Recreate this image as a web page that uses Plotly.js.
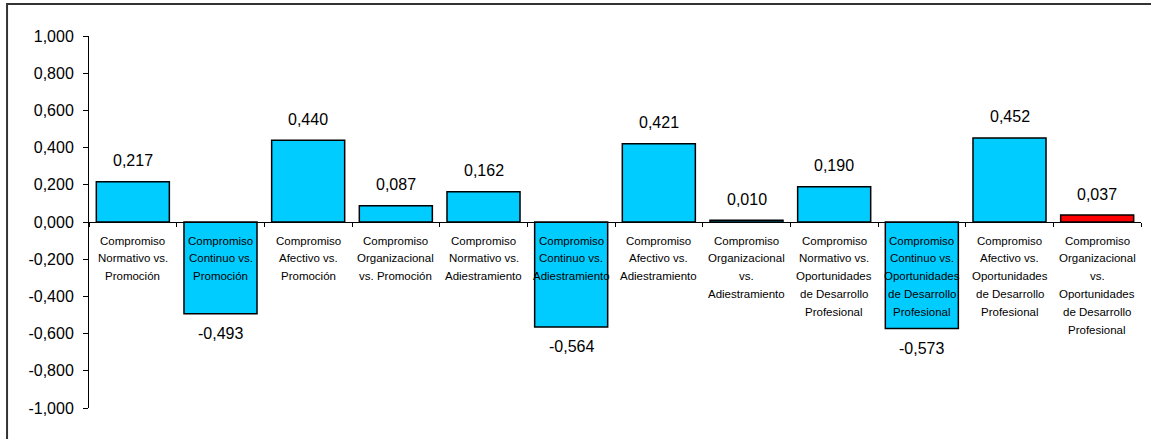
<!DOCTYPE html>
<html>
<head>
<meta charset="utf-8">
<script src="https://cdn.plot.ly/plotly-3.0.1.min.js"></script>
<style>html,body{margin:0;padding:0;background:#fff;}#chart{width:1151px;height:439px;}</style>
</head>
<body>
<div id="chart"></div>
<script>
// ---- data ----
const categories = [
  "Compromiso<br>Normativo vs.<br>Promoción",
  "Compromiso<br>Continuo vs.<br>Promoción",
  "Compromiso<br>Afectivo vs.<br>Promoción",
  "Compromiso<br>Organizacional<br>vs. Promoción",
  "Compromiso<br>Normativo vs.<br>Adiestramiento",
  "Compromiso<br>Continuo vs.<br>Adiestramiento",
  "Compromiso<br>Afectivo vs.<br>Adiestramiento",
  "Compromiso<br>Organizacional<br>vs.<br>Adiestramiento",
  "Compromiso<br>Normativo vs.<br>Oportunidades<br>de Desarrollo<br>Profesional",
  "Compromiso<br>Continuo vs.<br>Oportunidades<br>de Desarrollo<br>Profesional",
  "Compromiso<br>Afectivo vs.<br>Oportunidades<br>de Desarrollo<br>Profesional",
  "Compromiso<br>Organizacional<br>vs.<br>Oportunidades<br>de Desarrollo<br>Profesional"
];
const values = [0.217, -0.493, 0.440, 0.087, 0.162, -0.564, 0.421, 0.010, 0.190, -0.573, 0.452, 0.037];
const yTickValues = [-1, -0.8, -0.6, -0.4, -0.2, 0, 0.2, 0.4, 0.6, 0.8, 1];

// ---- chart ----
const FONT = "Liberation Sans, Arial, sans-serif";
const barColors = values.map((v, i) => i === values.length - 1 ? "#FF0000" : "#00CCFF");

const fmt = v => (v < -1e-9 ? "-" : "") + Math.abs(v).toFixed(3).replace(".", ",");

const trace = {
  type: "bar",
  x: categories,
  y: values,
  marker: { color: barColors, line: { color: "#000000", width: 1.5 } },
  hoverinfo: "skip"
};

const annotations = [];
categories.forEach((c, i) => {
  const v = values[i];
  annotations.push({
    x: c, y: v, xref: "x", yref: "y",
    text: fmt(v), showarrow: false,
    yanchor: "middle", yshift: v >= 0 ? 21 : -19.5,
    font: { family: FONT, size: 16, color: "#000" }
  });
  c.split("<br>").forEach((line, j) => {
    annotations.push({
      x: c, y: 0, xref: "x", yref: "y",
      text: line, showarrow: false,
      yanchor: "middle", yshift: -(18.5 + 17.8 * j),
      font: { family: FONT, size: 11.5, color: "#000" }
    });
  });
});

const layout = {
  width: 1151, height: 439,
  margin: { l: 89, r: 10, t: 36, b: 31 },
  paper_bgcolor: "#fff", plot_bgcolor: "#fff",
  showlegend: false,
  bargap: 0.167,
  xaxis: {
    type: "category", anchor: "free", position: 0.5,
    range: [-0.5, categories.length - 0.5],
    showline: true, linecolor: "#000", linewidth: 1,
    ticks: "outside", ticklen: 4, tickcolor: "#000", tickson: "boundaries",
    showticklabels: false, showgrid: false, zeroline: false, fixedrange: true
  },
  yaxis: {
    range: [-1, 1], tickmode: "array",
    tickvals: yTickValues, ticktext: yTickValues.map(fmt),
    showline: true, linecolor: "#000", linewidth: 1,
    ticks: "outside", ticklen: 5, tickcolor: "#000",
    ticklabelstandoff: 6,
    tickfont: { family: FONT, size: 16, color: "#000" },
    showgrid: false, zeroline: false, fixedrange: true
  },
  annotations: annotations,
  shapes: [{
    type: "rect", xref: "paper", yref: "paper",
    x0: -0.0779, x1: 1.05, y0: -0.2, y1: 1.086,
    line: { color: "#333", width: 2 }, fillcolor: "rgba(0,0,0,0)", layer: "below"
  }]
};

Plotly.newPlot("chart", [trace], layout, { displayModeBar: false, staticPlot: true });
</script>
</body>
</html>
